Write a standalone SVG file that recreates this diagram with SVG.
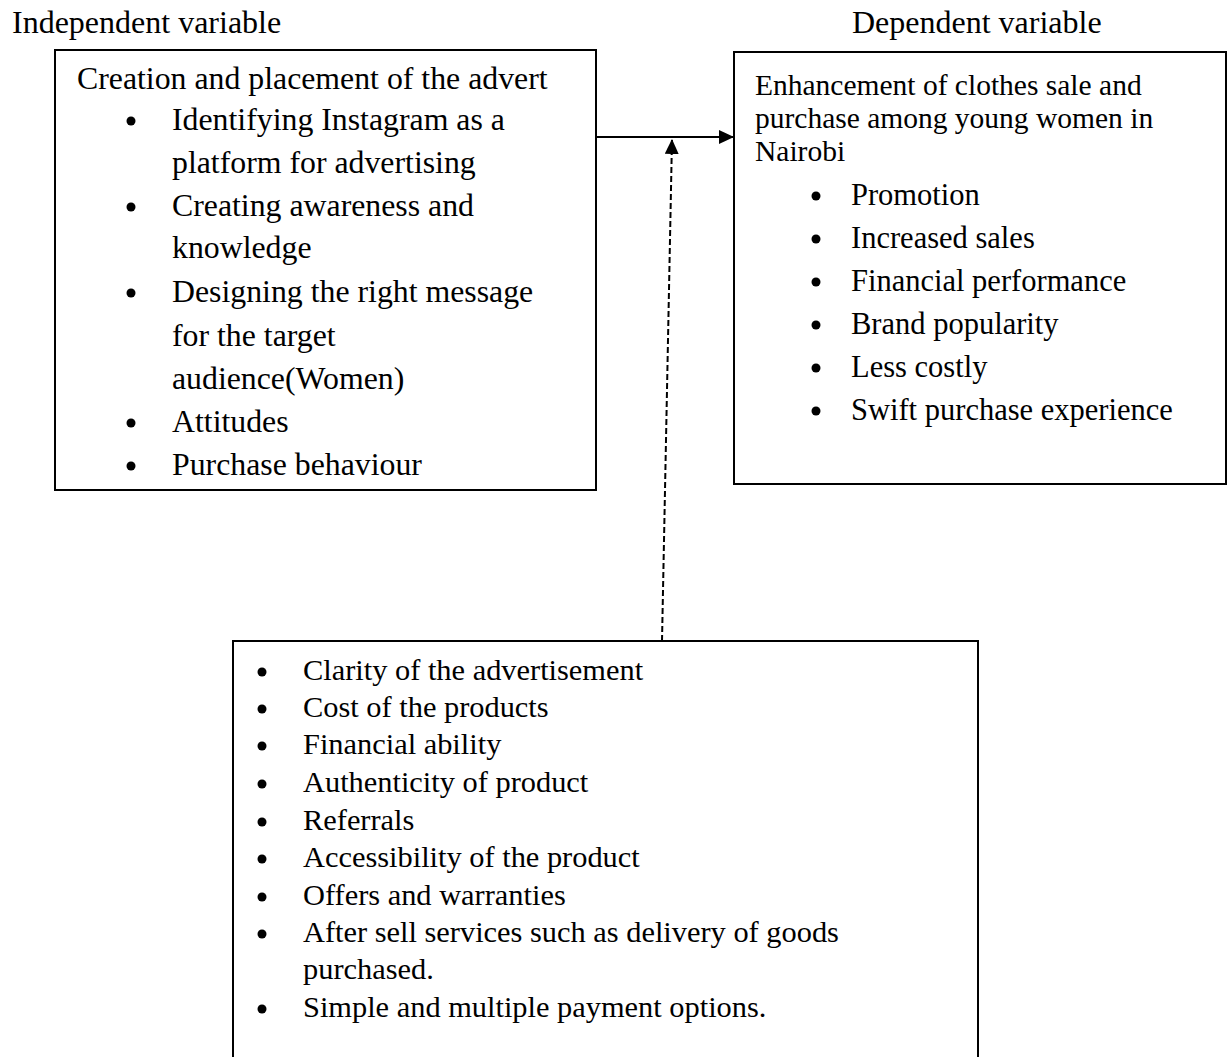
<svg xmlns="http://www.w3.org/2000/svg" width="1230" height="1057" viewBox="0 0 1230 1057">
<defs>
<style>
text{font-family:"Liberation Serif","Times New Roman",serif;fill:#000}
.h{font-size:32px}
.l{font-size:31.8px}
.r{font-size:30.5px}
.rt{font-size:29.5px}
.b{font-size:30.4px}
.box{fill:#fff;stroke:#000;stroke-width:2}
.dot{fill:#000}
</style>
<marker id="ah" markerWidth="16" markerHeight="14" refX="15" refY="7" orient="auto" markerUnits="userSpaceOnUse"><path d="M0,0 L15,7 L0,14 Z" fill="#000"/></marker>
</defs>
<rect width="1230" height="1057" fill="#fff"/>
<text class="h" x="12" y="33">Independent variable</text>
<text class="h" x="852" y="33">Dependent variable</text>

<g id="independent">
<rect class="box" x="55" y="50" width="541" height="440"/>
<text class="l" x="77" y="89">Creation and placement of the advert</text>
<circle class="dot" cx="131" cy="121" r="4.5"/>
<text class="l" x="172" y="130">Identifying Instagram as a</text>
<text class="l" x="172" y="173">platform for advertising</text>
<circle class="dot" cx="131" cy="207" r="4.5"/>
<text class="l" x="172" y="216">Creating awareness and</text>
<text class="l" x="172" y="258">knowledge</text>
<circle class="dot" cx="131" cy="293" r="4.5"/>
<text class="l" x="172" y="302">Designing the right message</text>
<text class="l" x="172" y="346">for the target</text>
<text class="l" x="172" y="389">audience(Women)</text>
<circle class="dot" cx="131" cy="423" r="4.5"/>
<text class="l" x="172" y="432">Attitudes</text>
<circle class="dot" cx="131" cy="466" r="4.5"/>
<text class="l" x="172" y="475">Purchase behaviour</text>
</g>

<g id="dependent">
<rect class="box" x="734" y="52" width="492" height="432"/>
<text class="rt" x="755" y="95">Enhancement of clothes sale and</text>
<text class="rt" x="755" y="128">purchase among young women in</text>
<text class="rt" x="755" y="161">Nairobi</text>
<circle class="dot" cx="816" cy="196" r="4.5"/>
<text class="r" x="851" y="205">Promotion</text>
<circle class="dot" cx="816" cy="239" r="4.5"/>
<text class="r" x="851" y="248">Increased sales</text>
<circle class="dot" cx="816" cy="282" r="4.5"/>
<text class="r" x="851" y="291">Financial performance</text>
<circle class="dot" cx="816" cy="325" r="4.5"/>
<text class="r" x="851" y="334">Brand popularity</text>
<circle class="dot" cx="816" cy="368" r="4.5"/>
<text class="r" x="851" y="377">Less costly</text>
<circle class="dot" cx="816" cy="411" r="4.5"/>
<text class="r" x="851" y="420">Swift purchase experience</text>
</g>

<g id="moderating">
<rect class="box" x="233" y="641" width="745" height="430"/>
<circle class="dot" cx="262" cy="672" r="4.5"/>
<text class="b" x="303" y="680">Clarity of the advertisement</text>
<circle class="dot" cx="262" cy="709" r="4.5"/>
<text class="b" x="303" y="717">Cost of the products</text>
<circle class="dot" cx="262" cy="746" r="4.5"/>
<text class="b" x="303" y="754">Financial ability</text>
<circle class="dot" cx="262" cy="784" r="4.5"/>
<text class="b" x="303" y="792">Authenticity of product</text>
<circle class="dot" cx="262" cy="822" r="4.5"/>
<text class="b" x="303" y="830">Referrals</text>
<circle class="dot" cx="262" cy="859" r="4.5"/>
<text class="b" x="303" y="867">Accessibility of the product</text>
<circle class="dot" cx="262" cy="897" r="4.5"/>
<text class="b" x="303" y="905">Offers and warranties</text>
<circle class="dot" cx="262" cy="934" r="4.5"/>
<text class="b" x="303" y="942">After sell services such as delivery of goods</text>
<text class="b" x="303" y="979">purchased.</text>
<circle class="dot" cx="262" cy="1009" r="4.5"/>
<text class="b" x="303" y="1017">Simple and multiple payment options.</text>
</g>

<g id="connectors">
<line x1="596" y1="137" x2="734" y2="137" stroke="#000" stroke-width="2" marker-end="url(#ah)"/>
<line x1="662" y1="641" x2="672" y2="139" stroke="#000" stroke-width="2" stroke-dasharray="6 3" marker-end="url(#ah)"/>
</g>
</svg>
